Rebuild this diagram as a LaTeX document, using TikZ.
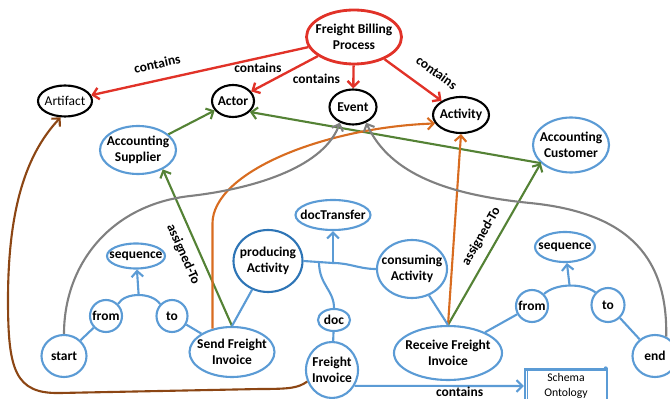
\documentclass[tikz,border=0pt]{standalone}
\usepackage{fontspec}
\setmainfont{Carlito}
\usepackage{xcolor}
\usepackage{tikz}
\usetikzlibrary{shapes.geometric, arrows.meta}
\definecolor{billred}{RGB}{225,50,40}
\definecolor{ontoblue}{RGB}{91,155,213}
\definecolor{darkblue}{RGB}{46,117,182}
\definecolor{assigngreen}{RGB}{84,130,53}
\definecolor{actorange}{RGB}{216,108,32}
\definecolor{eventgray}{RGB}{128,128,128}
\definecolor{artbrown}{RGB}{140,70,20}
\tikzset{
	concept/.style = {ellipse, draw, line width=1.8pt, inner sep=-6pt, align=center, text=black, font=\bfseries\fontsize{11.5}{13.7}\selectfont},
	core/.style = {concept, draw=black},
	part/.style = {concept, draw=ontoblue},
	lbl/.style = {inner sep=1pt, text=black, font=\bfseries\fontsize{11.5}{13.7}\selectfont},
	barb/.style = {-{Straight Barb[length=5pt,width=10pt]}},
	contain/.style = {draw=billred, line width=2pt, barb},
	assign/.style = {draw=assigngreen, line width=1.8pt, barb},
	perform/.style = {draw=actorange, line width=1.8pt, barb},
	happen/.style = {draw=eventgray, line width=1.8pt, barb},
	holds/.style = {draw=artbrown, line width=1.8pt, barb},
	link/.style = {draw=ontoblue, line width=1.8pt},
}

\begin{document}
\begin{tikzpicture}[x=0.03cm, y=-0.03cm]
	\useasboundingbox (0,0) rectangle (670,399);

	\node[core, draw=billred, line width=2.4pt, minimum width=2.85cm, minimum height=1.62cm] (fbp) at (354,37) {Freight Billing\\Process};
	\node[core, minimum width=1.62cm, minimum height=0.93cm, font=\mdseries\fontsize{11.5}{13.7}\selectfont] (art) at (65,101) {Artifact};
	\node[core, minimum width=1.26cm, minimum height=0.96cm] (actor) at (233,101) {Actor};
	\node[core, minimum width=1.41cm, minimum height=1.05cm] (ev) at (353,107) {Event};
	\node[core, minimum width=1.68cm, minimum height=1.08cm] (act) at (461,115) {Activity};

	\node[part, minimum width=2.28cm, minimum height=1.44cm] (asup) at (138,150) {Accounting\\Supplier};
	\node[part, minimum width=2.28cm, minimum height=1.65cm] (acust) at (571,145) {Accounting\\Customer};
	\node[part, minimum width=2.25cm, minimum height=0.9cm] (dtr) at (333,215) {docTransfer};
	\node[part, draw=darkblue, minimum width=2.07cm, minimum height=1.86cm] (prod) at (268,261) {producing\\Activity};
	\node[part, minimum width=2.1cm, minimum height=1.74cm] (cons) at (412,269) {consuming\\Activity};
	\node[part, minimum width=0.96cm, minimum height=0.66cm] (doc) at (334,320) {doc};
	\node[part, minimum width=1.56cm, minimum height=1.68cm] (fi) at (332,370) {Freight\\Invoice};
	\node[part, minimum width=2.55cm, minimum height=1.5cm] (sfi) at (232,352) {Send Freight\\Invoice};
	\node[part, minimum width=3.24cm, minimum height=1.62cm] (rfi) at (448,353) {Receive Freight\\Invoice};

	\node[part, minimum width=1.35cm, minimum height=1.26cm] (start) at (64,356) {start};
	\node[part, minimum width=0.96cm, minimum height=0.96cm] (fromL) at (106,316) {from};
	\node[part, minimum width=0.93cm, minimum height=0.96cm] (toL) at (172,316) {to};
	\node[part, minimum width=1.74cm, minimum height=0.75cm] (seqL) at (136,256) {sequence};
	\node[part, minimum width=1.8cm, minimum height=0.9cm] (seqR) at (565,247) {sequence};
	\node[part, minimum width=0.96cm, minimum height=0.96cm] (fromR) at (532,306) {from};
	\node[part, minimum width=0.99cm, minimum height=1.02cm] (toR) at (608,305) {to};
	\node[part, minimum width=1.35cm, minimum height=1.26cm] (en) at (655,356) {end};

	\node[rectangle, draw=ontoblue, line width=1.8pt, minimum width=2.46cm, minimum height=0.96cm, align=center, font=\fontsize{10}{12.8}\selectfont] (sch) at (566,386) {Schema\\Ontology};
	\draw[ontoblue, line width=1.2pt] ([xshift=3pt]sch.north west) -- ([xshift=3pt]sch.south west);
	\fill[ontoblue] ([xshift=-2pt]sch.north east) circle (1.8pt);

	% contains
	\path (fbp) edge[contain] node[lbl, sloped, above=8pt, pos=0.68] {contains} (art);
	\path (fbp) edge[contain] node[lbl, left=9.5pt, pos=0.345] {contains} (actor);
	\path (fbp) edge[contain] node[lbl, left=9.5pt, pos=0.59] {contains} (ev);
	\path (fbp) edge[contain] node[lbl, sloped, above=11pt, pos=0.71] {contains} (act);

	% actors
	\path (asup) edge[assign] (actor);
	\path (acust.211) edge[assign] (actor.-33);
	\path (sfi.north) edge[assign] node[lbl, sloped, below=6.5pt, pos=0.5] {assigned-To} (asup.-38);
	\path (rfi.north) edge[assign] node[lbl, sloped, above=6pt, pos=0.5] {assigned-To} (acust.211);

	% activities and events
	\draw[perform] (sfi.130) -- ++(0,-105) .. controls +(0,-52) and +(-110,4) .. (act.198);
	\path (rfi.north) edge[perform] (act.south);
	\draw[happen] (start.north) .. controls (64,265) and (110,205) .. (190,196) .. controls (260,188) and (325,165) .. (ev.-130);
	\draw[happen] (en.60) .. controls (668,250) and (620,212) .. (530,203) .. controls (450,195) and (390,175) .. (ev.-50);
	\draw[holds] (fi.205) .. controls (298,388) and (290,389) .. (260,389) -- (60,393) .. controls (15,394) and (8,370) .. (8,300) .. controls (8,200) and (30,150) .. (art.-105);

	% sequences
	\draw[link] (start) -- (fromL);
	\draw[link] (fromL.45) .. controls (125,292) and (152,292) .. (toL.135) coordinate[pos=0.5] (arcL);
	\draw[link, barb] (arcL) -- (seqL);
	\draw[link] (toL) -- (sfi);
	\draw[link] (rfi) -- (fromR);
	\draw[link] (fromR.45) .. controls (556,283) and (583,283) .. (toR.135) coordinate[pos=0.5] (arcR);
	\draw[link, barb] (arcR) -- (seqR);
	\draw[link] (toR) -- (en);

	% document transfer
	\coordinate (jn) at (333,263);
	\coordinate (jd) at (319,262);
	\draw[link] (prod) -- (sfi.north);
	\draw[link] (prod.east) -- (jn) to[out=0, in=180] (cons.west);
	\draw[link, barb] (jn) -- (dtr);
	\draw[link] (doc.north) .. controls (334,290) and (319,285) .. (jd);
	\draw[link] (doc) -- (fi);
	\draw[link] (cons) -- (rfi.north);
	\draw[link, barb] (fi.-35) -- (sch.west) node[lbl, below=-1pt, pos=0.62] {contains};
\end{tikzpicture}
\end{document}
